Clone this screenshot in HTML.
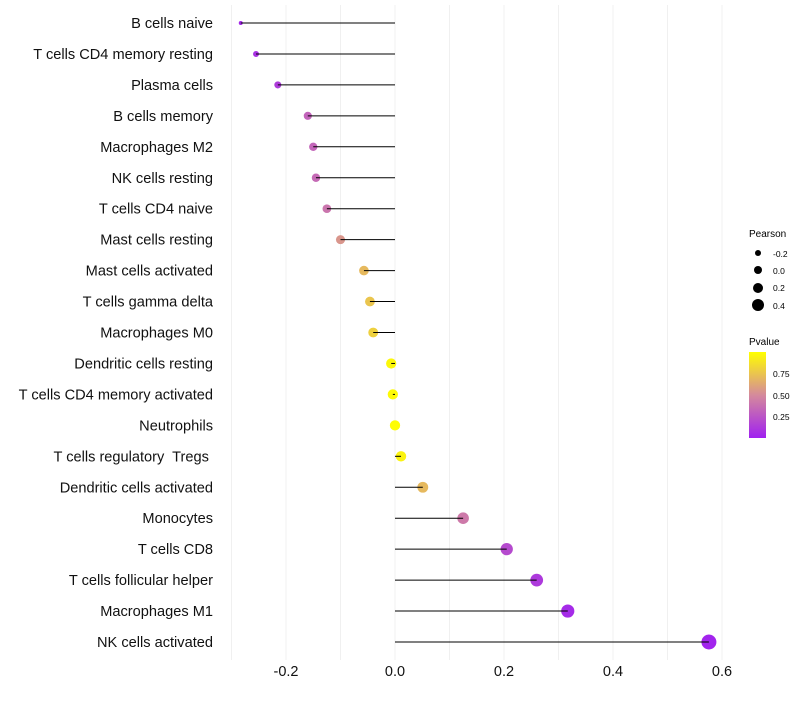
<!DOCTYPE html>
<html><head><meta charset="utf-8"><style>
body{margin:0;background:#fff;font-family:"Liberation Sans",sans-serif}
svg text{font-family:"Liberation Sans",sans-serif;white-space:pre}
</style></head><body>
<svg id="chart" width="800" height="700">
<defs><linearGradient id="pg" x1="0" y1="1" x2="0" y2="0">
<stop offset="0" stop-color="#a020f0"/><stop offset="0.5" stop-color="#d58a9c"/><stop offset="1" stop-color="#ffff00"/>
</linearGradient></defs>
<g id="grid"></g><g id="marks"></g><g id="labels"></g>
<g>
<text x="749" y="237" font-size="10">Pearson</text>
<circle cx="758" cy="253" r="3" fill="#000"/><text x="773" y="257" font-size="8.5">-0.2</text>
<circle cx="758" cy="270" r="4" fill="#000"/><text x="773" y="274" font-size="8.5">0.0</text>
<circle cx="758" cy="288" r="5" fill="#000"/><text x="773" y="291" font-size="8.5">0.2</text>
<circle cx="758" cy="305" r="6" fill="#000"/><text x="773" y="309" font-size="8.5">0.4</text>
</g>
<g>
<text x="749" y="345" font-size="10">Pvalue</text>
<rect x="749" y="352" width="17" height="86" fill="url(#pg)"/>
<text x="773" y="377" font-size="8.5">0.75</text>
<text x="773" y="399" font-size="8.5">0.50</text>
<text x="773" y="420" font-size="8.5">0.25</text>
</g>
</svg>
<script>
const categories=["B cells naive","T cells CD4 memory resting","Plasma cells","B cells memory","Macrophages M2","NK cells resting","T cells CD4 naive","Mast cells resting","Mast cells activated","T cells gamma delta","Macrophages M0","Dendritic cells resting","T cells CD4 memory activated","Neutrophils","T cells regulatory  Tregs ","Dendritic cells activated","Monocytes","T cells CD8","T cells follicular helper","Macrophages M1","NK cells activated"];
const pearson=[-0.283,-0.255,-0.215,-0.16,-0.15,-0.145,-0.125,-0.10,-0.057,-0.046,-0.04,-0.007,-0.004,0.0,0.011,0.051,0.125,0.205,0.26,0.317,0.576];
const pvalue=[0.04,0.08,0.13,0.32,0.33,0.35,0.4,0.55,0.7,0.75,0.8,0.97,0.98,0.99,0.95,0.7,0.42,0.2,0.12,0.05,0.02];
const xTicks=[-0.2,0,0.2,0.4,0.6];
const xTickLabels=["-0.2","0.0","0.2","0.4","0.6"];
const NS="http://www.w3.org/2000/svg";
const x=v=>395+v*545;
const y=i=>23+i*30.95;
const rad=v=>2+5.5*Math.sqrt(Math.max(0,(v+0.283)/0.86));
function col(p){const a=[160,32,240],m=[213,138,156],b=[255,255,0];let c;
 if(p<0.5){const t=p/0.5;c=a.map((v,k)=>v+(m[k]-v)*t);}else{const t=(p-0.5)/0.5;c=m.map((v,k)=>v+(b[k]-v)*t);}
 return "rgb("+c.map(Math.round).join(",")+")";}
function mk(t,at,parent){const e=document.createElementNS(NS,t);for(const k in at)e.setAttribute(k,at[k]);document.getElementById(parent).appendChild(e);return e;}
for(let v=-0.3;v<=0.651;v+=0.1){const ln=mk("line",{x1:x(v),x2:x(v),y1:5,y2:660,stroke:"#f0f0f0","stroke-width":1},"grid");

}
xTicks.forEach((t,i)=>{const tx=mk("text",{x:x(t),y:676,"font-size":14.5,"text-anchor":"middle",fill:"#111"},"labels");tx.textContent=xTickLabels[i];

});
categories.forEach((c,i)=>{
 const cy=y(i);
 const lb=mk("text",{x:213,y:cy+5,"font-size":14.6,"text-anchor":"end",fill:"#111"},"labels");lb.textContent=c;
 
 
 const pt=mk("circle",{cx:x(pearson[i]),cy:cy,r:rad(pearson[i]),fill:col(pvalue[i])},"marks");
 
 
 const sg=mk("line",{x1:x(0),x2:x(pearson[i]),y1:cy,y2:cy,stroke:"#000","stroke-width":1},"marks");
 
 
});
</script>
</body></html>
